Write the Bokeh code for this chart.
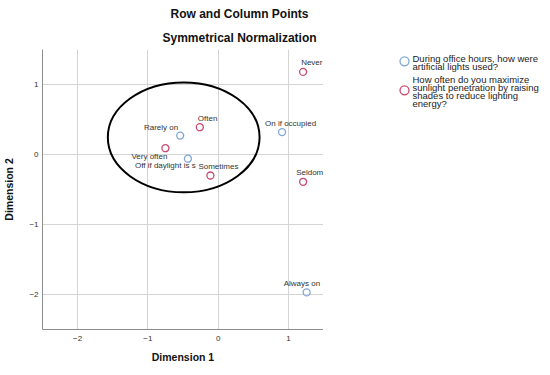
from bokeh.plotting import figure
from bokeh.models import ColumnDataSource, Title, FixedTicker, Range1d
from bokeh.layouts import row
from bokeh.core.properties import value
from bokeh.embed import file_html
from bokeh.resources import INLINE

# ---- data ----
row_labels = ["Rarely on", "Off if daylight is s", "On if occupied", "Always on"]
row_dim1 = [-0.54, -0.43, 0.91, 1.26]
row_dim2 = [0.27, -0.06, 0.32, -1.97]

col_labels = ["Never", "Often", "Very often", "Sometimes", "Seldom"]
col_dim1 = [1.21, -0.26, -0.75, -0.11, 1.21]
col_dim2 = [1.18, 0.39, 0.09, -0.30, -0.39]

ticks = [-2, -1, 0, 1]

# highlighted cluster ellipse (centre, width, height in dimension units)
ellipse_cx, ellipse_cy, ellipse_w, ellipse_h = -0.49, 0.245, 2.16, 1.57

row_legend_lines = ["During office hours, how were", "artificial lights used?"]
col_legend_lines = ["How often do you maximize", "sunlight penetration by raising",
                    "shades to reduce lighting", "energy?"]

# ---- label placement styles (screen px) ----
row_xoff = [-2, -53, -17, -23]
row_yoff = [-8, 7, -9, -9]
row_align = ["right", "left", "left", "left"]
col_xoff = [-2, -2, 2, -12, -7]
col_yoff = [-9, -9, 8, -9, -9]
col_align = ["left", "left", "right", "left", "left"]

BLUE = "#7ea7d4"
RED = "#c94a70"
FONT = "Liberation Sans"

p = figure(frame_width=281, frame_height=280, x_range=(-2.5, 1.5), y_range=(-2.5, 1.5),
           output_backend="svg", toolbar_location=None, title=None,
           min_border_left=35, min_border_right=0, min_border_top=40, min_border_bottom=0,
           background_fill_color="white", border_fill_color="white")
p.outline_line_color = None

p.add_layout(Title(text="Symmetrical Normalization", align="left", offset=120,
                   text_font=FONT, text_font_size="12px", text_font_style="bold",
                   text_color="#111111", standoff=9), "above")
p.add_layout(Title(text="Row and Column Points", align="left", offset=128,
                   text_font=FONT, text_font_size="12px", text_font_style="bold",
                   text_color="#111111", standoff=8), "above")

for ax in (p.xaxis[0], p.yaxis[0]):
    ax.ticker = FixedTicker(ticks=ticks)
    ax.axis_line_color = "#8c8c8c"
    ax.axis_line_width = 1
    ax.major_tick_line_color = None
    ax.minor_tick_line_color = None
    ax.major_tick_out = 0
    ax.major_tick_in = 0
    ax.major_label_text_font = FONT
    ax.major_label_text_font_size = "8px"
    ax.major_label_text_color = "#333333"
    ax.axis_label_text_font = FONT
    ax.axis_label_text_font_size = "10.5px"
    ax.axis_label_text_font_style = "bold"
    ax.axis_label_text_color = "#111111"
p.xaxis.axis_label = "Dimension 1"
p.yaxis.axis_label = "Dimension 2"
p.xaxis.major_label_standoff = 6
p.yaxis.major_label_standoff = 4
p.xaxis.axis_label_standoff = 7
p.yaxis.axis_label_standoff = 11

p.xgrid.ticker = FixedTicker(ticks=ticks)
p.ygrid.ticker = FixedTicker(ticks=ticks)
p.grid.grid_line_color = "#d4d4d4"
p.grid.grid_line_width = 1

p.ellipse(x=[ellipse_cx], y=[ellipse_cy], width=[ellipse_w], height=[ellipse_h],
          fill_color=None, line_color="black", line_width=2)

rsrc = ColumnDataSource(dict(x=row_dim1, y=row_dim2, t=row_labels, xo=row_xoff, yo=row_yoff, al=row_align))
csrc = ColumnDataSource(dict(x=col_dim1, y=col_dim2, t=col_labels, xo=col_xoff, yo=col_yoff, al=col_align))

p.scatter("x", "y", source=rsrc, marker="circle", size=7, fill_color=None,
          line_color=BLUE, line_width=1.3)
p.scatter("x", "y", source=csrc, marker="circle", size=7, fill_color=None,
          line_color=RED, line_width=1.3)

for src in (rsrc, csrc):
    p.text("x", "y", text="t", source=src, x_offset="xo", y_offset="yo", text_align="al",
           text_baseline="middle", text_font=value(FONT), text_font_size="8px",
           text_color="#333333")

# ---- legend panel (pixel coordinate figure aligned with the plot frame, y downward) ----
LW, LH = 218, 280
lg = figure(frame_width=LW, frame_height=LH, x_range=Range1d(0, LW), y_range=Range1d(LH, 0),
            output_backend="svg", toolbar_location=None, min_border=0,
            background_fill_color="white", border_fill_color="white")
lg.outline_line_color = None
lg.axis.visible = False
lg.grid.visible = False

line_step, item_gap, first_line = 8.2, 4.4, 8.7
glyph_x, text_x = 81, 89
ys_row = [first_line + i * line_step for i in range(len(row_legend_lines))]
start2 = ys_row[-1] + line_step + item_gap
ys_col = [start2 + i * line_step for i in range(len(col_legend_lines))]

lg.text(x=[text_x] * len(ys_row), y=ys_row, text=row_legend_lines, text_baseline="middle",
        text_font=value(FONT), text_font_size="9.5px", text_color="#222222")
lg.text(x=[text_x] * len(ys_col), y=ys_col, text=col_legend_lines, text_baseline="middle",
        text_font=value(FONT), text_font_size="9.5px", text_color="#222222")
lg.scatter(x=[glyph_x], y=[sum(ys_row) / len(ys_row) - 1], marker="circle", size=9,
           fill_color=None, line_color=BLUE, line_width=1.3)
lg.scatter(x=[glyph_x], y=[sum(ys_col) / len(ys_col) - 1], marker="circle", size=9,
           fill_color=None, line_color=RED, line_width=1.3)

open("out.html", "w").write(file_html(row(p, lg), INLINE))
